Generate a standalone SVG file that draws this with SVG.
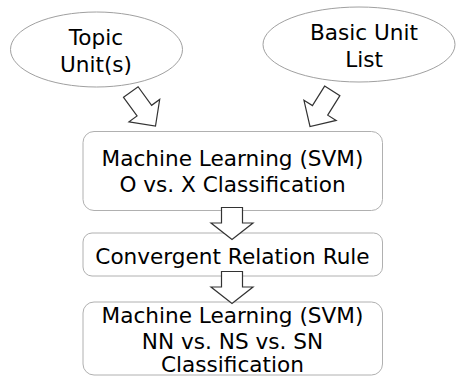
<svg xmlns="http://www.w3.org/2000/svg" width="456" height="377" viewBox="0 0 456 377">
<defs>
<style>
.ell{fill:#ffffff;stroke:#a0a0a0;stroke-width:1}
.box{fill:#ffffff;stroke:#b0b0b0;stroke-width:1}
.arr{fill:#ffffff;stroke:#333333;stroke-width:1.2;stroke-linejoin:miter}
text{font-family:"DejaVu Sans",sans-serif;font-size:21.6px;fill:#000000;text-anchor:middle}
</style>
<polygon id="diag" points="-9,-42 9,-42 9,-19 19,-19 0,0 -19,-19 -9,-19"/>
</defs>
<rect width="456" height="377" fill="#ffffff"/>
<g id="topic">
<ellipse class="ell" cx="96.5" cy="49.5" rx="86" ry="37.5"/>
<text x="96" y="45">Topic</text>
<text x="96" y="71.5">Unit(s)</text>
</g>
<g id="basic">
<ellipse class="ell" cx="359" cy="44.5" rx="96" ry="37.5"/>
<text x="364" y="40">Basic Unit</text>
<text x="364" y="66.5">List</text>
</g>
<g id="ml1">
<rect class="box" x="83" y="131.5" width="299.5" height="79" rx="11"/>
<text x="232.5" y="165.5">Machine Learning (SVM)</text>
<text x="232.5" y="191.5">O vs. X Classification</text>
</g>
<g id="rule">
<rect class="box" x="83" y="233" width="299.5" height="43" rx="9"/>
<text x="232.5" y="263.5">Convergent Relation Rule</text>
</g>
<g id="ml2">
<rect class="box" x="83" y="302" width="299.5" height="73" rx="11"/>
<text x="232.5" y="323">Machine Learning (SVM)</text>
<text x="232.5" y="348.5">NN vs. NS vs. SN</text>
<text x="232.5" y="372">Classification</text>
</g>
<g id="connectors">
<use href="#diag" class="arr" transform="translate(155.5,126) rotate(-36)"/>
<use href="#diag" class="arr" transform="translate(310,126.5) rotate(32)"/>
<polygon class="arr" points="221.5,207.5 242.5,207.5 242.5,223 253,223 232,239.5 211,223 221.5,223"/>
<polygon class="arr" points="221.5,271.5 242.5,271.5 242.5,287 253,287 232,303.5 211,287 221.5,287"/>
</g>
</svg>
